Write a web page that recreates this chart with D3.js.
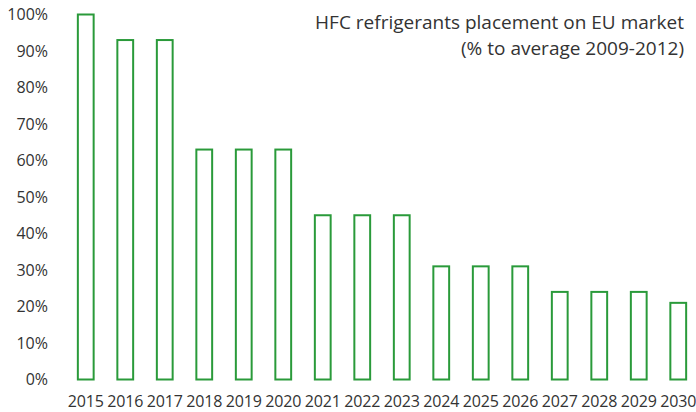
<!DOCTYPE html>
<html><head><meta charset="utf-8">
<script src="https://cdn.jsdelivr.net/npm/d3@7"></script>
<style>body{margin:0;background:#fff}svg{display:block}</style>
</head><body><div id="c"></div>
<script>
const years = ["2015","2016","2017","2018","2019","2020","2021","2022","2023","2024","2025","2026","2027","2028","2029","2030"];
const values = [100,93,93,63,63,63,45,45,45,31,31,31,24,24,24,21];
const yTicks = [0,10,20,30,40,50,60,70,80,90,100];
const titleLines = ["HFC refrigerants placement on EU market","(% to average 2009-2012)"];

const W=696,H=412;
const svg=d3.select("#c").append("svg").attr("width",W).attr("height",H);
const font="'Open Sans', sans-serif";
const x=d3.scaleBand().domain(years).range([66,698]).paddingInner(0.6).paddingOuter(0.3);
const y=d3.scaleLinear().domain([0,100]).range([379.5,14.5]);

const yAxis=svg.append("g").attr("transform","translate(48,0)")
  .call(d3.axisLeft(y).tickValues(yTicks).tickFormat(d=>d+"%").tickSize(0).tickPadding(0));
yAxis.select(".domain").remove();
yAxis.selectAll("text").attr("font-family",font).attr("font-size",16).attr("fill","#333");

const xAxis=svg.append("g").attr("transform","translate(0,392)")
  .call(d3.axisBottom(x).tickSize(0).tickPadding(0));
xAxis.select(".domain").remove();
xAxis.selectAll("text").attr("dy",null).attr("y",15).attr("font-family",font).attr("font-size",16).attr("letter-spacing",-0.2).attr("fill","#333");

svg.append("g").selectAll("rect").data(values).join("rect")
  .attr("x",(d,i)=>x(years[i])).attr("width",x.bandwidth())
  .attr("y",d=>y(d)).attr("height",d=>y(0)-y(d))
  .attr("fill","none").attr("stroke","#2a9a3a").attr("stroke-width",2);

svg.append("text").attr("text-anchor","end").attr("font-family",font).attr("font-size",19).attr("fill","#333")
  .selectAll("tspan").data(titleLines).join("tspan")
  .attr("x",684).attr("y",(d,i)=>29+i*26).text(d=>d);
</script></body></html>
